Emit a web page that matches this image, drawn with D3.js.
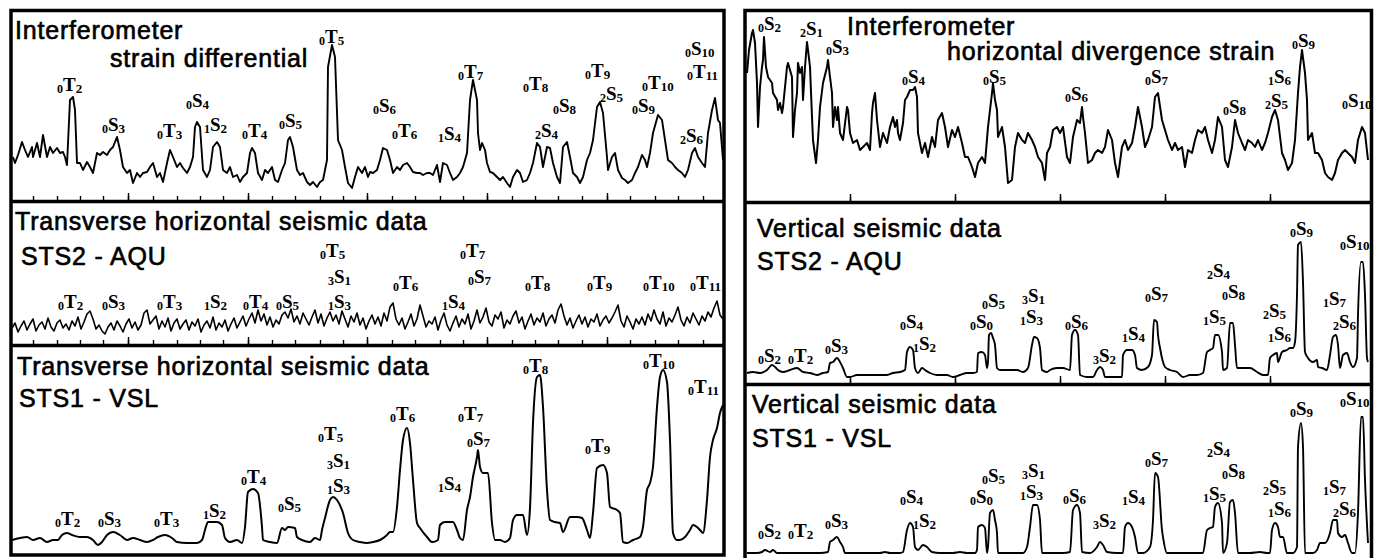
<!DOCTYPE html>
<html><head><meta charset="utf-8">
<script src="https://cdn.jsdelivr.net/npm/d3@7"></script>
<style>html,body{margin:0;padding:0;background:#fff;} svg{display:block;}</style>
</head><body>
<svg id="chart" width="1380" height="558"></svg>
<script>
// ---------- DATA (x = frequency offset in panel units, y = spectral amplitude, arbitrary units) ----------
const strainDifferential = [[3,40],[5,34],[8,42],[12,55],[15,47],[18,40],[22,50],[23,40],[27,54],[30,40],[33,62],[37,40],[40,50],[43,44],[47,49],[50,44],[53,45],[55,40],[57,32],[60,97],[63,100],[65,87],[67,34],[70,34],[73,27],[77,35],[80,30],[83,24],[87,44],[90,42],[93,45],[97,42],[100,47],[103,50],[107,60],[110,47],[113,30],[117,24],[120,27],[123,14],[127,24],[130,20],[133,24],[137,25],[140,30],[143,34],[147,20],[150,24],[153,15],[157,34],[160,47],[163,40],[167,30],[170,34],[173,29],[177,24],[180,30],[183,40],[185,70],[187,75],[190,70],[193,27],[197,20],[200,27],[203,50],[207,55],[210,50],[213,27],[217,24],[220,30],[223,20],[227,22],[230,15],[233,20],[237,24],[240,44],[242,49],[245,44],[248,24],[252,17],[255,27],[258,24],[262,30],[265,17],[268,15],[272,27],[275,34],[278,57],[280,60],[283,50],[287,27],[290,22],[293,24],[297,15],[300,12],[303,15],[307,10],[310,15],[313,17],[317,37],[318,130],[322,152],[325,140],[328,57],[332,47],[335,30],[338,14],[342,9],[345,20],[348,30],[352,24],[355,30],[358,20],[360,25],[363,24],[367,27],[370,37],[373,49],[377,47],[380,37],[383,24],[387,30],[390,27],[393,32],[397,34],[400,30],[403,25],[407,24],[410,24],[413,22],[417,24],[420,24],[423,22],[427,32],[430,15],[433,34],[437,32],[440,24],[443,17],[447,20],[450,24],[453,30],[457,44],[460,97],[463,117],[467,97],[468,64],[470,47],[472,54],[475,47],[477,34],[480,25],[483,24],[487,20],[490,17],[493,20],[497,14],[500,10],[503,20],[507,27],[510,24],[513,15],[517,17],[520,24],[523,34],[527,54],[530,50],[533,30],[537,50],[540,49],[543,34],[547,20],[550,14],[553,50],[557,55],[560,40],[563,24],[567,20],[570,14],[573,20],[577,37],[580,44],[583,57],[587,90],[590,95],[593,84],[597,40],[598,27],[602,40],[605,44],[608,27],[612,19],[615,17],[618,14],[622,17],[625,24],[628,30],[632,42],[635,37],[637,30],[640,44],[643,64],[648,82],[652,77],[655,57],[658,37],[662,34],[665,30],[668,27],[672,24],[675,20],[678,27],[682,44],[685,49],[688,40],[692,34],[695,30],[698,64],[702,87],[705,99],[708,77],[710,74],[713,37]];

// transverse STS2-AQU, amplitudes sampled every 3 units starting at 2
const aquTransverse = [15,20,11,17,22,13,19,24,12,18, 21,14,25,16,12,20,23,15,19,13, 22,17,26,14,21,29,32,24,14,18, 12,9,16,20,13,22,17,11,19,24, 15,21,13,18,30,33,19,23,27,14, 22,16,25,12,20,24,14,19,23,13, 21,17,24,11,18,22,15,26,13,20, 16,23,12,19,25,15,21,27,17,24, 30,20,33,22,29,18,26,16,23,19, 28,31,25,34,21,27,19,30,24,18, 26,33,20,29,17,25,31,22,28,19, 32,24,16,27,21,30,18,25,14,22, 28,19,26,17,30,22,36,40,24,18, 25,14,21,29,17,24,38,27,16,22, 19,26,13,23,30,18,12,20,27,16, 24,19,29,14,22,33,20,26,35,21, 17,28,24,31,15,23,19,27,32,20, 26,14,22,29,18,25,21,30,17,24, 28,20,33,39,27,18,25,15,22,28, 19,26,16,24,21,29,17,23,27,20, 25,31,38,22,16,27,21,14,24,19, 26,18,29,22,33,24,19,31,17,25, 21,28,36,23,17,26,20,30,24,18, 27,22,31,26,35,42,28,24];

const vslTransverse = [[2,13],[10,15],[17,16],[23,13],[30,15],[37,11],[43,13],[48,13],[52,18],[57,20],[62,18],[70,16],[77,16],[83,13],[88,8],[92,11],[97,18],[103,21],[110,18],[117,13],[123,15],[130,13],[137,11],[143,13],[148,16],[155,18],[162,15],[167,11],[177,10],[187,10],[192,13],[195,23],[198,31],[207,31],[212,28],[215,15],[220,11],[227,13],[232,10],[235,26],[238,61],[243,64],[248,60],[252,26],[253,13],[260,11],[267,10],[272,25],[275,23],[278,26],[285,25],[287,16],[292,13],[300,11],[305,15],[310,13],[312,23],[315,35],[320,53],[323,56],[327,53],[333,40],[338,20],[343,13],[350,11],[357,10],[363,11],[370,13],[377,18],[380,21],[383,21],[387,46],[390,83],[393,113],[397,125],[400,110],[403,73],[407,30],[410,25],[417,16],[422,11],[428,13],[430,28],[435,31],[443,31],[447,23],[450,15],[453,13],[457,43],[460,56],[463,76],[467,96],[468,103],[470,86],[473,80],[478,80],[482,30],[485,13],[490,13],[495,11],[500,15],[503,33],[507,38],[513,38],[517,18],[520,45],[523,130],[527,176],[530,178],[533,146],[537,63],[540,33],[545,31],[550,30],[553,21],[560,36],[567,36],[572,35],[577,23],[580,15],[583,40],[587,85],[593,88],[597,80],[600,46],[607,43],[610,40],[613,11],[617,10],[623,13],[630,16],[633,26],[637,63],[640,70],[643,86],[647,146],[650,176],[653,183],[657,171],[660,113],[663,20],[667,13],[670,13],[675,16],[680,23],[683,28],[687,26],[690,23],[693,20],[697,53],[700,96],[703,113],[707,125],[710,140],[713,148]];

const divergenceStrain = [[2,126],[4,149],[7,166],[8,169],[10,156],[12,116],[13,72],[15,112],[17,132],[18,139],[19,162],[21,132],[23,122],[27,116],[28,106],[32,99],[33,89],[35,96],[37,86],[38,92],[42,132],[43,136],[47,122],[48,62],[50,89],[52,106],[53,136],[55,126],[57,132],[58,99],[60,132],[62,157],[63,149],[65,132],[67,82],[68,59],[71,36],[73,59],[75,92],[78,116],[82,132],[83,139],[85,122],[87,106],[88,72],[90,92],[92,79],[93,92],[95,66],[98,59],[102,92],[103,89],[105,66],[108,56],[112,59],[115,49],[118,52],[122,56],[125,49],[127,86],[128,96],[130,106],[132,79],[135,52],[138,66],[142,56],[145,72],[148,82],[150,72],[152,79],[153,66],[155,59],[158,76],[160,99],[162,102],[165,109],[168,109],[170,112],[172,102],[173,66],[177,46],[180,56],[183,42],[187,62],[190,52],[193,79],[197,86],[200,72],[203,52],[207,69],[210,62],[213,72],[217,56],[220,42],[223,42],[227,32],[230,22],[233,36],[237,42],[240,36],[243,72],[247,106],[248,116],[250,99],[252,89],[253,62],[257,72],[260,52],[263,16],[267,19],[270,52],[273,66],[277,59],[280,56],[283,66],[287,59],[290,52],[293,42],[297,36],[300,19],[302,46],[305,52],[308,69],[312,72],[315,66],[318,72],[322,42],[325,36],[328,62],[332,79],[335,76],[337,92],[338,82],[340,66],[343,36],[347,39],[350,46],[353,49],[357,46],[360,52],[363,69],[367,59],[370,36],[373,22],[377,52],[380,59],[383,49],[387,56],[390,72],[393,92],[397,72],[400,52],[403,59],[407,72],[410,102],[413,106],[417,79],[420,69],[423,59],[427,49],[430,56],[433,49],[437,52],[440,32],[443,49],[447,46],[450,59],[453,69],[457,66],[460,72],[463,59],[467,46],[470,59],[473,82],[477,72],[480,39],[483,32],[487,52],[490,79],[493,66],[497,56],[500,49],[503,59],[507,56],[510,52],[513,59],[517,49],[520,56],[523,66],[527,82],[530,89],[533,79],[537,46],[540,39],[543,29],[547,36],[550,59],[553,106],[555,132],[557,149],[560,126],[562,99],[563,59],[567,66],[570,46],[573,46],[577,39],[580,26],[583,22],[587,19],[590,26],[593,39],[597,46],[600,49],[603,46],[607,42],[610,36],[613,59],[617,72],[620,66],[623,39]];

const aquVertical = [[2,8],[8,9],[15,8],[22,11],[27,16],[30,14],[33,11],[38,9],[45,11],[52,13],[58,9],[65,8],[72,6],[78,8],[83,9],[85,18],[88,19],[92,23],[95,19],[98,13],[102,4],[105,4],[112,6],[122,6],[132,6],[142,6],[148,8],[155,9],[160,11],[162,29],[165,34],[168,31],[170,13],[173,8],[177,13],[180,11],[185,8],[192,6],[202,6],[208,4],[215,6],[222,8],[228,8],[232,9],[233,28],[237,29],[240,26],[242,13],[243,19],[244,46],[246,48],[248,43],[250,36],[252,13],[255,11],[262,11],[272,11],[278,9],[283,13],[287,36],[289,44],[292,43],[295,33],[297,11],[302,9],[305,11],[312,13],[318,13],[325,11],[327,46],[330,51],[333,46],[335,6],[342,4],[348,4],[352,11],[355,14],[358,11],[360,4],[368,4],[377,4],[378,26],[382,31],[387,31],[390,26],[392,13],[397,11],[403,14],[407,26],[409,61],[412,59],[413,46],[415,33],[420,14],[425,11],[432,9],[438,4],[445,6],[452,6],[458,8],[462,29],[465,31],[468,33],[470,46],[473,46],[477,29],[478,11],[482,13],[485,58],[488,58],[490,36],[492,13],[498,13],[505,13],[512,9],[518,6],[523,6],[525,23],[528,26],[532,28],[533,19],[537,29],[542,31],[545,33],[548,33],[550,39],[552,86],[553,136],[556,139],[558,99],[560,29],[563,23],[568,19],[572,21],[573,14],[577,13],[582,11],[585,26],[588,44],[591,46],[593,36],[595,13],[598,26],[602,28],[605,19],[608,14],[612,23],[613,66],[616,119],[618,119],[620,86],[622,23],[623,19]];

const vslVertical = [[2,5],[12,5],[17,6],[20,8],[25,6],[28,8],[32,5],[38,5],[48,5],[62,5],[75,5],[83,6],[85,16],[88,18],[92,21],[95,16],[98,11],[100,5],[108,5],[122,5],[135,5],[140,6],[145,5],[155,5],[158,6],[162,28],[165,35],[168,31],[170,11],[173,8],[178,13],[182,11],[187,6],[195,5],[208,5],[215,6],[222,5],[230,5],[232,8],[233,31],[237,33],[240,30],[242,5],[243,11],[245,45],[248,48],[250,38],[252,25],[253,5],[262,5],[278,5],[282,11],[285,31],[288,53],[292,53],[295,38],[297,5],[305,5],[318,5],[325,6],[328,48],[332,53],[335,45],[337,6],[345,5],[352,11],[355,16],[358,13],[362,6],[372,5],[378,5],[380,31],[383,35],[387,31],[390,21],[393,5],[398,5],[405,11],[408,38],[410,85],[413,81],[417,28],[418,21],[422,5],[432,5],[445,5],[458,5],[462,28],[465,30],[468,31],[470,51],[473,55],[477,35],[478,5],[482,15],[485,56],[488,58],[490,45],[493,5],[505,5],[515,6],[522,5],[525,5],[527,28],[530,35],[533,31],[535,21],[538,21],[542,5],[548,5],[552,11],[553,111],[556,135],[558,111],[560,5],[568,5],[572,8],[575,15],[580,15],[585,25],[588,38],[592,38],[593,25],[597,21],[600,23],[603,15],[607,5],[610,5],[613,45],[616,141],[618,141],[620,78],[623,15]];

// mode labels: [overtone n + type + degree l, frequency position, amplitude position]
const strainLabels = [["0T2",47,106],["0S3",92,66],["0T3",147,60],["0S4",176,90],["1S2",194,66],["0T4",232,60],["0S5",269,70],["0T5",309,154],["0S6",363,85],["0T6",382,60],["1S4",428,57],["0T7",448,119],["0T8",513,107],["0S8",543,85],["2S4",525,60],["0T9",575,120],["2S5",590,97],["0S9",622,85],["0T10",632,108],["0S10",675,142],["0T11",677,119],["2S6",670,55]];
const aquTLabels = [["0T2",48,35],["0S3",92,35],["0T3",147,35],["1S2",194,35],["0T4",233,35],["0S5",266,35],["1S3",318,35],["3S1",318,60],["0T5",310,86],["0T6",383,54],["1S4",432,35],["0S7",458,60],["0T7",450,86],["0T8",515,54],["0T9",577,54],["0T10",633,54],["0T11",680,54]];
const vslTLabels = [["0T2",45,28],["0S3",88,28],["0T3",144,28],["1S2",193,36],["0T4",231,70],["0S5",268,43],["1S3",317,61],["3S1",317,86],["0T5",308,113],["0T6",380,133],["1S4",428,63],["0S7",457,108],["0T7",448,133],["0T8",513,181],["0T9",575,101],["0T10",633,186],["0T11",678,160]];
const divLabels = [["0S2",13,169],["2S1",55,164],["0S3",81,146],["0S4",157,116],["0S5",238,116],["0S6",320,99],["0S7",400,116],["0S8",478,86],["1S6",523,116],["2S5",520,92],["0S9",547,152],["0S10",597,92]];
const aquVLabels = [["0S2",13,19],["0T2",43,19],["0S3",80,29],["0S4",155,53],["1S2",168,31],["0S0",225,53],["0S5",237,74],["3S1",277,79],["1S3",275,58],["0S6",320,53],["3S2",348,19],["1S4",377,41],["0S7",400,81],["2S4",462,104],["0S8",477,83],["1S5",458,58],["2S5",518,64],["1S6",523,41],["0S9",545,146],["1S7",578,76],["2S6",588,53],["0S10",595,133]];
const vslVLabels = [["0S2",13,21],["0T2",43,21],["0S3",80,31],["0S4",155,55],["1S2",168,31],["0S0",225,55],["0S5",237,76],["3S1",277,81],["1S3",275,60],["0S6",318,56],["3S2",348,31],["1S4",377,55],["0S7",400,93],["2S4",462,103],["0S8",477,81],["1S5",458,58],["2S5",518,65],["1S6",523,43],["0S9",545,143],["1S7",578,65],["2S6",588,43],["0S10",595,153]];

// titles
const titleStrain = ["Interferometer", "strain differential"];
const titleAquT = ["Transverse horizontal seismic data", "STS2 - AQU"];
const titleVslT = ["Transverse horizontal seismic data", "STS1 - VSL"];
const titleDiv = ["Interferometer", "horizontal divergence strain"];
const titleAquV = ["Vertical seismic data", "STS2 - AQU"];
const titleVslV = ["Vertical seismic data", "STS1 - VSL"];

// frequency ticks (panel units)
const leftTicks = [23,47,70,93,118,143,167,190,213,238,262,285,310,333,357,382,405,430,453,477,502,525,548,572,597,620,645,668,693];
const leftMajorTicks = [118,238,357,477,597];
const rightTicks = [105,210,315,420,525];

// ---------- DRAW ----------
const svg = d3.select("#chart");
const xL = d3.scaleLinear().domain([0, 714]).range([10, 724]);
const xR = d3.scaleLinear().domain([0, 627]).range([745, 1372]);

const panels = [
  {x: xL, ref: 197, data: strainDifferential, labels: strainLabels, curve: d3.curveLinear, sw: 1.9,
   titles: [[titleStrain[0], 15, 39], [titleStrain[1], 110, 67]]},
  {x: xL, ref: 343, data: aquTransverse.map((v, i) => [2 + 3 * i, v]), labels: aquTLabels, curve: d3.curveLinear, sw: 1.6,
   titles: [[titleAquT[0], 15, 230], [titleAquT[1], 21, 265]]},
  {x: xL, ref: 553, data: vslTransverse, labels: vslTLabels, curve: d3.curveMonotoneX, sw: 2,
   titles: [[titleVslT[0], 17, 375], [titleVslT[1], 19, 407]]},
  {x: xR, ref: 199, data: divergenceStrain, labels: divLabels, curve: d3.curveLinear, sw: 2,
   titles: [[titleDiv[0], 847, 35], [titleDiv[1], 947, 60]]},
  {x: xR, ref: 381, data: aquVertical, labels: aquVLabels, curve: d3.curveMonotoneX, sw: 1.9,
   titles: [[titleAquV[0], 757, 237], [titleAquV[1], 757, 270]]},
  {x: xR, ref: 558, data: vslVertical, labels: vslVLabels, curve: d3.curveMonotoneX, sw: 1.9,
   titles: [[titleVslV[0], 752, 413], [titleVslV[1], 752, 447]]}
];

panels.forEach(p => {
  const y = d3.scaleLinear().domain([0, 200]).range([p.ref, p.ref - 200]);
  const g = svg.append("g");
  const line = d3.line().x(d => p.x(d[0])).y(d => y(d[1])).curve(p.curve);
  g.append("path").datum(p.data).attr("d", line)
    .attr("fill", "none").attr("stroke", "#000").attr("stroke-width", p.sw).attr("stroke-linejoin", "round");
  p.titles.forEach(t => {
    g.append("text").attr("x", t[1]).attr("y", t[2]).text(t[0])
      .attr("font-family", "'Liberation Sans', Arial, sans-serif").attr("font-size", 25)
      .attr("letter-spacing", 0.8).attr("fill", "#000").attr("stroke", "#000").attr("stroke-width", 0.65);
  });
  p.labels.forEach(l => {
    const name = l[0];
    const t = g.append("text").attr("x", p.x(l[1])).attr("y", y(l[2]))
      .attr("font-family", "'Liberation Serif', 'Times New Roman', serif").attr("font-weight", "bold").attr("fill", "#000");
    t.append("tspan").attr("font-size", 12).attr("dy", 2).text(name[0]);
    t.append("tspan").attr("font-size", 19).attr("dy", -2).text(name[1]);
    t.append("tspan").attr("font-size", 13).attr("dy", 2).text(name.slice(2));
  });
});

// tick marks along panel bottoms (pointing inward)
function ticks(scale, yPos, minor, major) {
  const gMin = svg.append("g").attr("transform", `translate(0,${yPos})`)
    .call(d3.axisTop(scale).tickValues(minor).tickSize(4).tickFormat(""));
  gMin.select(".domain").remove();
  gMin.selectAll("line").attr("stroke-width", 1.4);
  if (major) {
    const gMaj = svg.append("g").attr("transform", `translate(0,${yPos})`)
      .call(d3.axisTop(scale).tickValues(major).tickSize(7).tickFormat(""));
    gMaj.select(".domain").remove();
    gMaj.selectAll("line").attr("stroke-width", 1.4);
  }
}
ticks(xL, 200, leftTicks, leftMajorTicks);
ticks(xL, 344, leftTicks, leftMajorTicks);
ticks(xR, 201, rightTicks, rightTicks);
ticks(xR, 383, rightTicks, rightTicks);

// frames
const frame = svg.append("g").attr("fill", "none").attr("stroke", "#000").attr("stroke-width", 3.5);
frame.append("rect").attr("x", 11).attr("y", 10.5).attr("width", 713).attr("height", 544.5);
frame.append("line").attr("x1", 11).attr("x2", 724).attr("y1", 201.5).attr("y2", 201.5);
frame.append("line").attr("x1", 11).attr("x2", 724).attr("y1", 345.5).attr("y2", 345.5);
frame.append("path").attr("d", "M745,560 V10.5 H1371.5 V560");
frame.append("line").attr("x1", 745).attr("x2", 1371.5).attr("y1", 202.5).attr("y2", 202.5);
frame.append("line").attr("x1", 745).attr("x2", 1371.5).attr("y1", 384.5).attr("y2", 384.5);
</script>
</body></html>
